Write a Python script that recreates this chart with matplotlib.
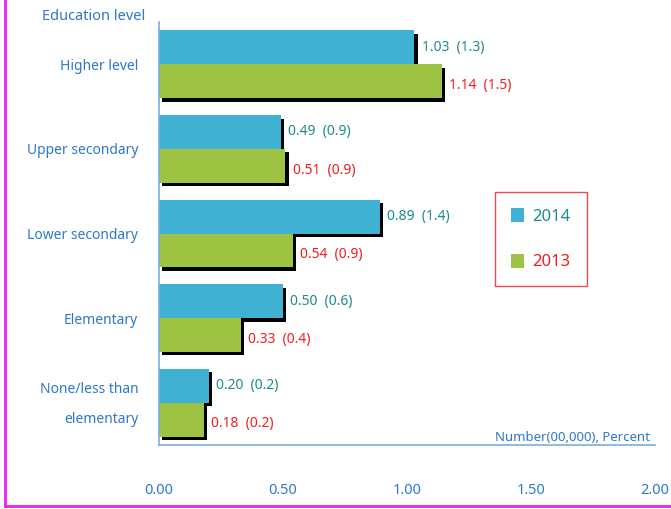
import matplotlib
matplotlib.use("Agg")
import matplotlib.pyplot as plt
import matplotlib.patheffects as pe
from matplotlib.lines import Line2D
import numpy as np

plt.rcParams["font.family"] = ["Noto Sans", "DejaVu Sans"]

categories = ["Higher level", "Upper secondary", "Lower secondary", "Elementary",
              "None/less than\n\nelementary"]
vals_2014 = [1.03, 0.49, 0.89, 0.50, 0.20]
pct_2014 = [1.3, 0.9, 1.4, 0.6, 0.2]
vals_2013 = [1.14, 0.51, 0.54, 0.33, 0.18]
pct_2013 = [1.5, 0.9, 0.9, 0.4, 0.2]
xticks = [0.0, 0.5, 1.0, 1.5, 2.0]

BLUE = "#3FB2D3"
GREEN = "#9DC244"
TEAL = "#1E8C8C"
RED = "#F01E1E"
LABEL = "#2E78C8"
SPINE = "#7AAEE0"

fig = plt.figure(figsize=(6.71, 5.09), dpi=100)
ax = fig.add_axes([159 / 671, 1 - 445 / 509, 496 / 671, 423 / 509])

y = np.arange(len(categories))
h = 0.4
shadow = [pe.SimplePatchShadow(offset=(2.5, -2.5), shadow_rgbFace="black", alpha=1.0), pe.Normal()]

b1 = ax.barh(y - h / 2, vals_2014, height=h, color=BLUE, path_effects=shadow)
b2 = ax.barh(y + h / 2, vals_2013, height=h, color=GREEN, path_effects=shadow)

for i in range(len(categories)):
    ax.text(vals_2014[i] + 0.03, y[i] - h / 2, f"{vals_2014[i]:.2f}  ({pct_2014[i]})",
            color=TEAL, va="center", ha="left", fontsize=10)
    ax.text(vals_2013[i] + 0.03, y[i] + h / 2 + 0.05, f"{vals_2013[i]:.2f}  ({pct_2013[i]})",
            color=RED, va="center", ha="left", fontsize=10)

ax.set_xlim(0, 2.0)
ax.set_ylim(len(categories) - 0.5, -0.5)
ax.set_yticks(y)
ax.set_yticklabels(categories, color=LABEL, fontsize=10, linespacing=1.0)
ax.set_xticks(xticks)
ax.set_xticklabels([f"{t:.2f}" for t in xticks], color=LABEL, fontsize=10.5)
ax.tick_params(axis="both", length=0)
ax.tick_params(axis="x", pad=27)
ax.tick_params(axis="y", pad=15)

for s in ["top", "right"]:
    ax.spines[s].set_visible(False)
for s in ["left", "bottom"]:
    ax.spines[s].set_color(SPINE)
    ax.spines[s].set_linewidth(1.2)

fig.text(145 / 671, 1 - 16 / 509, "Education level", color=LABEL, fontsize=10.5,
         ha="right", va="center")
ax.text(0.99, 0.003, "Number(00,000), Percent", transform=ax.transAxes, color=LABEL,
        fontsize=9.5, ha="right", va="bottom")

# legend box
leg = ax.legend([b1, b2], ["2014", "2013"], loc="upper left",
                bbox_to_anchor=(495 / 671, 1 - 192 / 509), bbox_transform=fig.transFigure,
                borderaxespad=0, frameon=True, fancybox=False, fontsize=12,
                handlelength=0.8, handleheight=0.9, labelspacing=1.75, borderpad=0.95,
                handletextpad=0.5)
leg.get_frame().set_edgecolor(RED)
leg.get_frame().set_linewidth(1.0)
for t, c in zip(leg.get_texts(), [TEAL, RED]):
    t.set_color(c)
for hd in leg.legend_handles:
    hd.set_path_effects([])

# magenta frame
fig.add_artist(Line2D([5 / 671, 5 / 671], [3 / 509, 1], transform=fig.transFigure,
                      color="#F020F0", linewidth=2))
fig.add_artist(Line2D([5 / 671, 1], [3 / 509, 3 / 509], transform=fig.transFigure,
                      color="#F020F0", linewidth=2))

fig.savefig("out.png", dpi=100)
